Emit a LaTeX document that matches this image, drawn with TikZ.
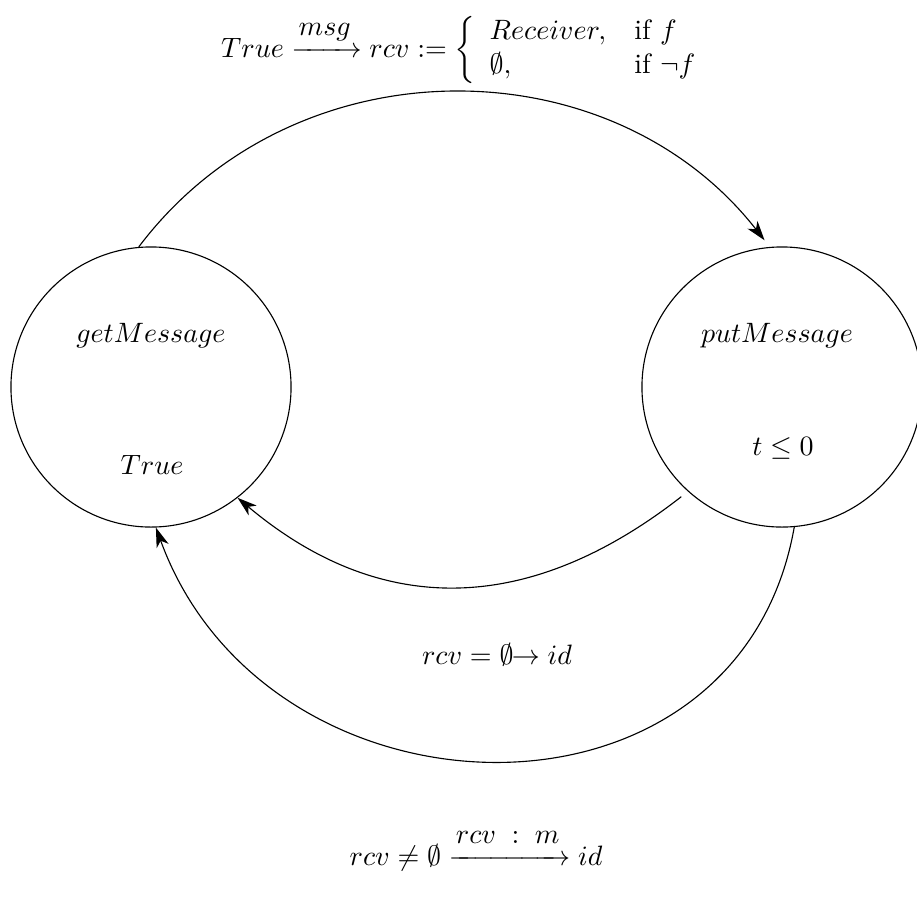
\documentclass[tikz,border=0pt]{standalone}
\usepackage{amsmath}
\usepackage{amssymb}
\usepackage{tikz}
\usetikzlibrary{arrows.meta}

\begin{document}
\begin{tikzpicture}[x=0.357pt, y=-0.357pt,
    state/.style={draw, circle, minimum size=100pt, inner sep=0pt},
    trans/.style={-{Stealth[length=7pt, width=4.5pt, inset=2pt]}}]
    \useasboundingbox (0,0) rectangle (917,899);

    % 1. THE TWO LOCATIONS
    \node[state] (getMsg) at (151,387) {};
    \node[state] (putMsg) at (782,387) {};
    \node (getName) at (151,336) {$getMessage$};
    \node (getInv) at (152,465) {$True$};
    \node (putName) at (777,336) {$putMessage$};
    \node (putInv) at (783,448) {$t \leq 0$};

    % 2. TRANSITIONS
    \draw[trans, shorten >=3pt] (getMsg.95) to[out=53, in=128, looseness=1.05] (putMsg.95);
    \draw[trans, shorten <=3pt] (putMsg.228) to[out=218, in=320, looseness=1.1] (getMsg.308);
    \draw[trans] (putMsg.275) to[out=260, in=290, looseness=1.3] (getMsg.272);

    % 3. TRANSITION LABELS
    \node[inner sep=1pt] (sendLbl) at (467,50) {$True \xrightarrow{\raisebox{2pt}{$msg$}} rcv := \left\{ \begin{array}{ll} Receiver, & \mbox{if } f \\ \emptyset, & \mbox{if } \neg f \end{array}\right.$};
    \node (idleLbl) at (497,655) {$rcv = \emptyset\mkern-6mu\rightarrow id$};
    \node (recvLbl) at (476,850) {$rcv \neq \emptyset \xrightarrow{\raisebox{2pt}{$rcv\;:\;m$}} id$};
\end{tikzpicture}
\end{document}
